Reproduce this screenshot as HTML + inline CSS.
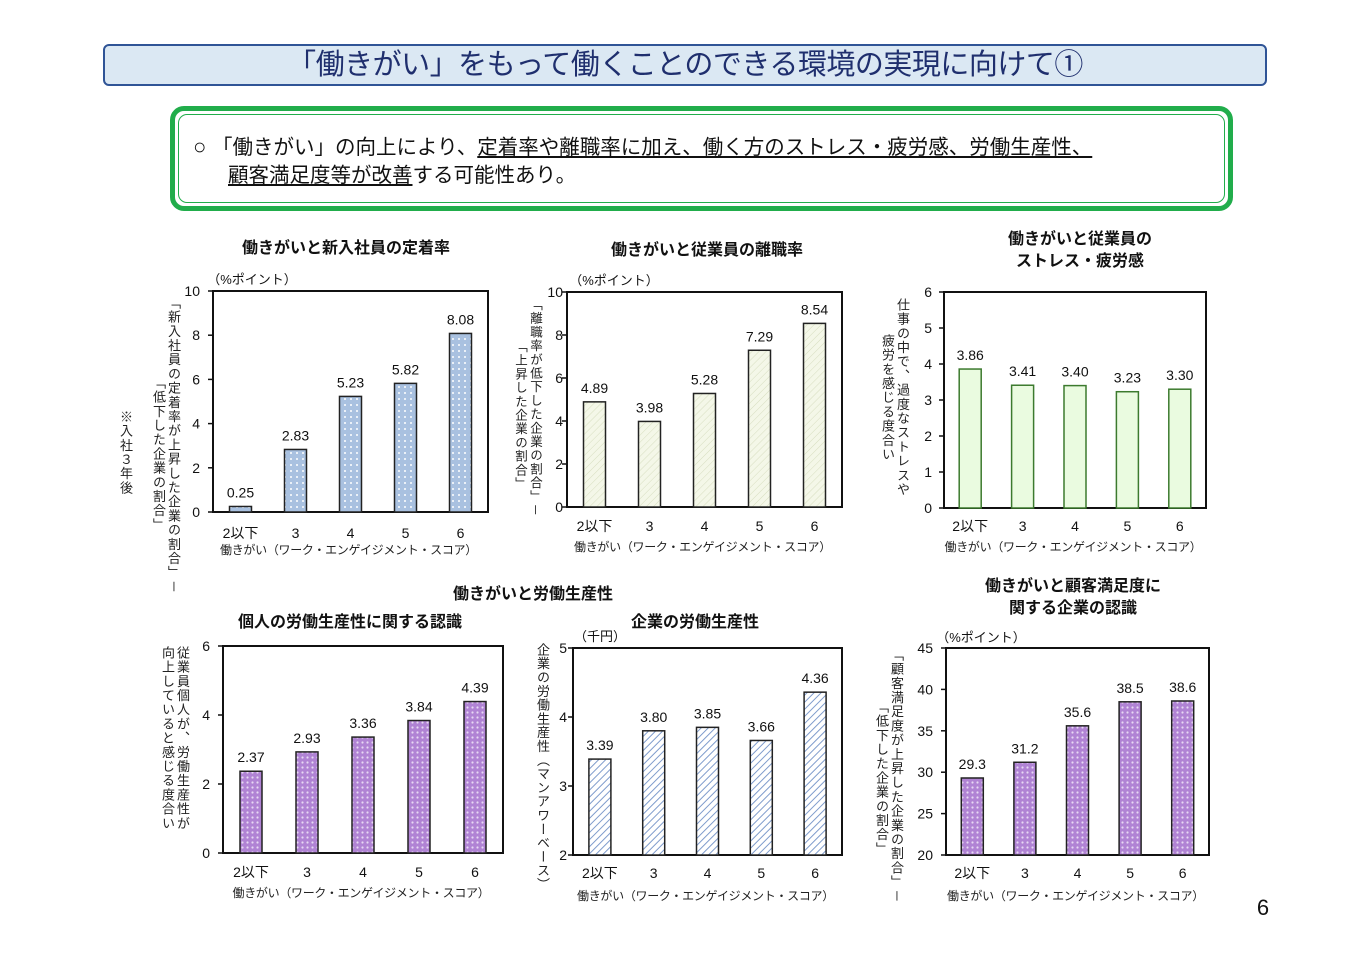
<!DOCTYPE html>
<html><head><meta charset="utf-8">
<style>
html,body{margin:0;padding:0;background:#fff;}
body{width:1360px;height:957px;position:relative;overflow:hidden;font-family:"Liberation Sans","Noto Sans CJK JP",sans-serif;}
.vt{position:absolute;writing-mode:vertical-rl;font-size:13px;color:#222;letter-spacing:1.2px;white-space:nowrap;}
</style></head>
<body>
<div style="position:absolute;left:103px;top:44px;width:1160px;height:38px;background:#dbe8f3;border:2px solid #2f5496;border-radius:6px;text-align:center;font-size:29px;line-height:38px;color:#1f2f6e;letter-spacing:-0.5px;">「働きがい」をもって働くことのできる環境の実現に向けて①</div>
<div style="position:absolute;left:170px;top:106px;width:1053px;height:95px;border:5px solid #21ad4b;border-radius:14px;">
 <div style="position:absolute;left:3px;top:3px;right:3px;bottom:3px;border:1.5px solid #21ad4b;border-radius:9px;"></div>
 <div style="position:absolute;left:18px;top:22px;font-size:20.5px;line-height:28px;color:#111;"><span style="font-size:22px">○</span> 「働きがい」の向上により、<u>定着率や離職率に加え、働く方のストレス・疲労感、労働生産性、</u><br><span style="padding-left:35px"><u>顧客満足度等が改善</u>する可能性あり。</span></div>
</div>

<div class="vt" style="left:164px;top:296px;">「新入社員の定着率が上昇した企業の割合」－</div>
<div class="vt" style="left:149px;top:376px;">「低下した企業の割合」</div>
<div class="vt" style="left:116px;top:410px;">※入社３年後</div>
<div class="vt" style="left:526px;top:298px;font-size:12.5px;">「離職率が低下した企業の割合」－</div>
<div class="vt" style="left:511px;top:340px;font-size:12.5px;">「上昇した企業の割合」</div>
<div class="vt" style="left:893px;top:298px;">仕事の中で、過度なストレスや</div>
<div class="vt" style="left:878px;top:334px;">疲労を感じる度合い</div>
<div class="vt" style="left:173px;top:646px;">従業員個人が、労働生産性が</div>
<div class="vt" style="left:158px;top:646px;">向上していると感じる度合い</div>
<div class="vt" style="left:533px;top:643px;letter-spacing:0.8px;">企業の労働生産性（マンアワーベース）</div>
<div class="vt" style="left:887px;top:648px;">「顧客満足度が上昇した企業の割合」－</div>
<div class="vt" style="left:872px;top:700px;">「低下した企業の割合」</div>

<svg id="s" width="1360" height="957" style="position:absolute;left:0;top:0;" xmlns="http://www.w3.org/2000/svg" font-family="Liberation Sans, Noto Sans CJK JP, sans-serif">
<defs>
 <pattern id="pDot" width="6" height="6" patternUnits="userSpaceOnUse"><rect width="6" height="6" fill="#a9c1e0"/><circle cx="3" cy="3" r="1" fill="#fff"/></pattern>
 <pattern id="pHatchG" width="5" height="5" patternUnits="userSpaceOnUse" patternTransform="rotate(45)"><rect width="5" height="5" fill="#f4f7e8"/><line x1="0" y1="0" x2="0" y2="5" stroke="#d7dec0" stroke-width="1"/></pattern>
 <pattern id="pHatchB" width="5" height="5" patternUnits="userSpaceOnUse" patternTransform="rotate(45)"><rect width="5" height="5" fill="#ffffff"/><line x1="0" y1="0" x2="0" y2="5" stroke="#7f9ccc" stroke-width="2"/></pattern>
 <pattern id="pCross" width="5" height="5" patternUnits="userSpaceOnUse"><rect width="5" height="5" fill="#b083d4"/><circle cx="2.5" cy="2.5" r="1.1" fill="#e8d8f4"/></pattern>
</defs>
<g id="charts"></g>
<text x="1263" y="915" font-size="22" text-anchor="middle" fill="#111">6</text>
</svg>

<script>
const categories = ["2以下","3","4","5","6"];
const vals1 = [0.25,2.83,5.23,5.82,8.08];
const labels1 = ["0.25","2.83","5.23","5.82","8.08"];
const ticks1 = [0,2,4,6,8,10];
const vals2 = [4.89,3.98,5.28,7.29,8.54];
const labels2 = ["4.89","3.98","5.28","7.29","8.54"];
const ticks2 = [0,2,4,6,8,10];
const vals3 = [3.86,3.41,3.40,3.23,3.30];
const labels3 = ["3.86","3.41","3.40","3.23","3.30"];
const ticks3 = [0,1,2,3,4,5,6];
const vals4 = [2.37,2.93,3.36,3.84,4.39];
const labels4 = ["2.37","2.93","3.36","3.84","4.39"];
const ticks4 = [0,2,4,6];
const vals5 = [3.39,3.80,3.85,3.66,4.36];
const labels5 = ["3.39","3.80","3.85","3.66","4.36"];
const ticks5 = [2,3,4,5];
const vals6 = [29.3,31.2,35.6,38.5,38.6];
const labels6 = ["29.3","31.2","35.6","38.5","38.6"];
const ticks6 = [20,25,30,35,40,45];

const NS="http://www.w3.org/2000/svg";
const root=document.getElementById('charts');
function mk(tag,attrs,parent,txt){const e=document.createElementNS(NS,tag);for(const k in attrs)e.setAttribute(k,attrs[k]);if(txt!==undefined)e.textContent=txt;(parent||root).appendChild(e);return e;}

const charts=[
 {id:'chart1',x0:213,y0:291,x1:488,y1:512,vals:vals1,labels:labels1,ticks:ticks1,fill:'url(#pDot)',stroke:'#222',catY:538,xtY:554,gap:13},
 {id:'chart2',x0:567,y0:292,x1:842,y1:507,vals:vals2,labels:labels2,ticks:ticks2,fill:'url(#pHatchG)',stroke:'#222',catY:531,xtY:551,gap:4},
 {id:'chart3',x0:944,y0:292,x1:1206,y1:508,vals:vals3,labels:labels3,ticks:ticks3,fill:'#eafbe0',stroke:'#3c7a2e',catY:531,xtY:551,gap:12},
 {id:'chart4',x0:223,y0:646,x1:503,y1:853,vals:vals4,labels:labels4,ticks:ticks4,fill:'url(#pCross)',stroke:'#222',catY:877,xtY:897,gap:13},
 {id:'chart5',x0:573,y0:648,x1:842,y1:855,vals:vals5,labels:labels5,ticks:ticks5,fill:'url(#pHatchB)',stroke:'#222',catY:878,xtY:900,gap:6},
 {id:'chart6',x0:946,y0:648,x1:1209,y1:855,vals:vals6,labels:labels6,ticks:ticks6,fill:'url(#pCross)',stroke:'#222',catY:878,xtY:900,gap:13}
];

charts.forEach(c=>{
 const g=mk('g',{});
 
 
 const ymin=c.ticks[0], ymax=c.ticks[c.ticks.length-1];
 const yS=v=>c.y1-(v-ymin)/(ymax-ymin)*(c.y1-c.y0);
 const band=(c.x1-c.x0)/categories.length;
 const xS=i=>c.x0+band*(i+0.5);
 const frame=mk('rect',{x:c.x0,y:c.y0,width:c.x1-c.x0,height:c.y1-c.y0,fill:'none',stroke:'#111','stroke-width':2},g);
 
 
 c.ticks.forEach(t=>{
  mk('line',{x1:c.x0-5,x2:c.x0,y1:yS(t),y2:yS(t),stroke:'#111','stroke-width':1.5},g);
  const tl=mk('text',{x:c.x0-c.gap,y:yS(t)+5,'font-size':14,'text-anchor':'end',fill:'#111'},g,String(t));
  
  
 });
 c.vals.forEach((v,i)=>{
  const top=yS(v);
  const b=mk('rect',{x:xS(i)-11,y:top,width:22,height:c.y1-top,fill:c.fill,stroke:c.stroke,'stroke-width':1.5},g);
  
  
  const vl=mk('text',{x:xS(i),y:top-9,'font-size':14,'text-anchor':'middle',fill:'#111'},g,c.labels[i]);
  
  
  const cl=mk('text',{x:xS(i),y:c.catY,'font-size':14,'text-anchor':'middle',fill:'#111'},g,categories[i]);
  
  
 });
 const xt=mk('text',{x:(c.x0+c.x1)/2-2,y:c.xtY,'font-size':12,'text-anchor':'middle',fill:'#222','letter-spacing':'-0.3'},g,'働きがい（ワーク・エンゲイジメント・スコア）');
 
 
});

const texts=[
 ['chart1-title',346,253,'働きがいと新入社員の定着率',16,'bold'],
 ['chart2-title',707,255,'働きがいと従業員の離職率',16,'bold'],
 ['chart3-title-line1',1080,244,'働きがいと従業員の',16,'bold'],
 ['chart3-title-line2',1080,266,'ストレス・疲労感',16,'bold'],
 ['productivity-group-title',533,599,'働きがいと労働生産性',16,'bold'],
 ['chart4-title',350,627,'個人の労働生産性に関する認識',16,'bold'],
 ['chart5-title',695,627,'企業の労働生産性',16,'bold'],
 ['chart6-title-line1',1073,591,'働きがいと顧客満足度に',16,'bold'],
 ['chart6-title-line2',1073,613,'関する企業の認識',16,'bold'],
 ['chart1-unit',252,284,'（%ポイント）',13,'normal'],
 ['chart2-unit',614,285,'（%ポイント）',13,'normal'],
 ['chart5-unit',600,641,'（千円）',13,'normal'],
 ['chart6-unit',981,642,'（%ポイント）',13,'normal']
];
texts.forEach(t=>{
 const e=mk('text',{x:t[1],y:t[2],'font-size':t[4],'font-weight':t[5],'text-anchor':'middle',fill:'#111'},root,t[3]);
 
 
});
</script>
</body></html>
